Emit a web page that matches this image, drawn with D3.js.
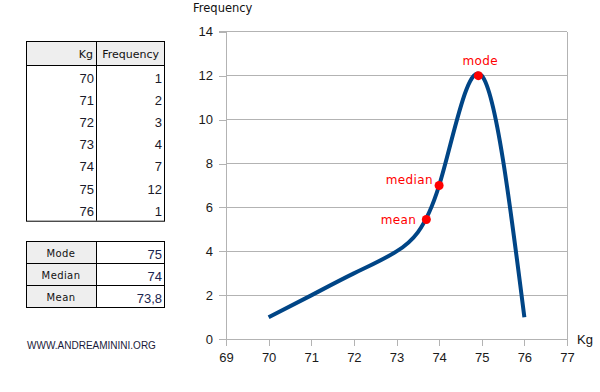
<!DOCTYPE html>
<html><head><meta charset="utf-8">
<script src="https://cdn.jsdelivr.net/npm/d3@7/dist/d3.min.js"></script>
<style>body{margin:0;background:#fff}svg{display:block}</style>
</head><body>
<script>
const kg = [70, 71, 72, 73, 74, 75, 76];
const frequency = [1, 2, 3, 4, 7, 12, 1];
const xTicks = [69, 70, 71, 72, 73, 74, 75, 76, 77];
const yTicks = [0, 2, 4, 6, 8, 10, 12, 14];
const statLabels = ["Mode", "Median", "Mean"];
const statValues = ["75", "74", "73,8"];
const markerNames = ["mode", "median", "mean"];
const markerX = [74.92, 74, 73.7];
const markerY = [12, 7, 5.45];

const W = 600, H = 392;
const svg = d3.select("body").append("svg").attr("width", W).attr("height", H);

const x = d3.scaleLinear().domain([69, 77]).range([226, 567]);
const y = d3.scaleLinear().domain([0, 14]).range([339.3, 31.7]);

// grid
svg.append("g").selectAll("line").data(yTicks).join("line")
  .attr("x1", x(69)).attr("x2", x(77))
  .attr("y1", d => y(d)).attr("y2", d => y(d))
  .attr("stroke", "#b3b3b3").attr("stroke-width", 1).attr("shape-rendering", "crispEdges");
// right border
svg.append("line").attr("x1", x(77)).attr("x2", x(77)).attr("y1", y(14)).attr("y2", y(0))
  .attr("stroke", "#b3b3b3").attr("shape-rendering", "crispEdges");

const yAxis = svg.append("g").attr("transform", `translate(${x(69)},0)`)
  .call(d3.axisLeft(y).tickValues(yTicks).tickSize(7).tickPadding(6));
const xAxis = svg.append("g").attr("transform", `translate(0,${y(0)})`)
  .call(d3.axisBottom(x).tickValues(xTicks).tickSize(7).tickPadding(6));
[yAxis, xAxis].forEach(a => {
  a.selectAll("path.domain").attr("stroke", "#b3b3b3").attr("shape-rendering", "crispEdges");
  a.selectAll(".tick line").attr("stroke", "#b3b3b3").attr("shape-rendering", "crispEdges");
  a.selectAll("text").attr("fill", "#1a1a1a").style("font-family", "Liberation Sans, Arial, sans-serif").style("font-size", "13px");
});
xAxis.selectAll("path.domain").attr("d", `M${x(69)},7V0H${x(77)}V7`);
yAxis.selectAll("path.domain").attr("d", `M-7,${y(14)}H0V${y(0)}H-7`);

svg.append("text").attr("x", 193).attr("y", 12).text("Frequency")
  .style("font-family", "DejaVu Sans, sans-serif").style("font-size", "11.5px").attr("fill", "#111");
svg.append("text").attr("x", 577).attr("y", 344).text("Kg")
  .style("font-family", "Liberation Sans, Arial, sans-serif").style("font-size", "13px").attr("fill", "#111");

// curve
const pts = kg.map((k, i) => [k, frequency[i]]);
svg.append("path").datum(pts)
  .attr("d", d3.line().x(d => x(d[0])).y(d => y(d[1])).curve(d3.curveNatural))
  .attr("fill", "none").attr("stroke", "#004586").attr("stroke-width", 4);

// markers
const mk = markerNames.map((n, i) => ({n, x: markerX[i], y: markerY[i]}));
svg.append("g").selectAll("circle").data(mk).join("circle")
  .attr("cx", d => x(d.x)).attr("cy", d => y(d.y)).attr("r", 4.5).attr("fill", "#ff0000");
const lblOff = {mode: [2, -11, "middle"], median: [-6, -2, "end"], mean: [-10, 4, "end"]};
svg.append("g").selectAll("text").data(mk).join("text")
  .attr("x", d => x(d.x) + lblOff[d.n][0]).attr("y", d => y(d.y) + lblOff[d.n][1])
  .attr("text-anchor", d => lblOff[d.n][2])
  .text(d => d.n).attr("fill", "#ff0000")
  .style("font-family", "DejaVu Sans, sans-serif").style("font-size", "12px").style("letter-spacing", "0.4px");

// table 1
const tL = 26, tM = 96, tR = 164, tTop = 41, hdrB = 65, rowH = 22.1;
const t1 = svg.append("g");
t1.append("rect").attr("x", tL).attr("y", tTop).attr("width", tR - tL).attr("height", hdrB - tTop).attr("fill", "#eeeeee");
t1.append("rect").attr("x", tL + 0.5).attr("y", tTop + 0.5).attr("width", tR - tL).attr("height", hdrB + rowH * kg.length + 1 - tTop)
  .attr("fill", "none").attr("stroke", "#000");
t1.append("line").attr("x1", tL).attr("x2", tR).attr("y1", hdrB + 0.5).attr("y2", hdrB + 0.5).attr("stroke", "#000");
t1.append("line").attr("x1", tM + 0.5).attr("x2", tM + 0.5).attr("y1", tTop).attr("y2", hdrB + rowH * kg.length + 1).attr("stroke", "#000");
t1.append("text").attr("x", tM - 3).attr("y", tTop + 17).attr("text-anchor", "end").text("Kg")
  .style("font-family", "DejaVu Sans, sans-serif").style("font-size", "11px").attr("fill", "#111");
t1.append("text").attr("x", tR - 5).attr("y", tTop + 17).attr("text-anchor", "end").text("Frequency")
  .style("font-family", "DejaVu Sans, sans-serif").style("font-size", "11px").attr("fill", "#111");
kg.forEach((k, i) => {
  const yy = hdrB + rowH * i + 18;
  t1.append("text").attr("x", tM - 2).attr("y", yy).attr("text-anchor", "end").text(k)
    .style("font-family", "Liberation Sans, Arial, sans-serif").style("font-size", "13px").attr("fill", "#1a1a2a");
  t1.append("text").attr("x", tR - 2).attr("y", yy).attr("text-anchor", "end").text(frequency[i])
    .style("font-family", "Liberation Sans, Arial, sans-serif").style("font-size", "13px").attr("fill", "#1a1a2a");
});

// table 2
const sTop = 241, sRow = 22;
const t2 = svg.append("g");
t2.append("rect").attr("x", tL).attr("y", sTop).attr("width", tM - tL).attr("height", sRow * 3).attr("fill", "#eeeeee");
t2.append("rect").attr("x", tL + 0.5).attr("y", sTop + 0.5).attr("width", tR - tL).attr("height", sRow * 3)
  .attr("fill", "none").attr("stroke", "#000");
t2.append("line").attr("x1", tM + 0.5).attr("x2", tM + 0.5).attr("y1", sTop).attr("y2", sTop + sRow * 3).attr("stroke", "#000");
[1, 2].forEach(i => t2.append("line").attr("x1", tL).attr("x2", tR).attr("y1", sTop + sRow * i + 0.5).attr("y2", sTop + sRow * i + 0.5).attr("stroke", "#000"));
statLabels.forEach((s, i) => {
  const yy = sTop + sRow * i + 16;
  t2.append("text").attr("x", (tL + tM) / 2).attr("y", yy).attr("text-anchor", "middle").text(s)
    .style("font-family", "DejaVu Sans, sans-serif").style("font-size", "10px").style("letter-spacing", "0.4px").attr("fill", "#111");
  t2.append("text").attr("x", tR - 2).attr("y", yy + 2).attr("text-anchor", "end").text(statValues[i])
    .style("font-family", "Liberation Sans, Arial, sans-serif").style("font-size", "13px").attr("fill", "#1a2550");
});

svg.append("text").attr("x", 27).attr("y", 349).text("WWW.ANDREAMININI.ORG")
  .style("font-family", "Liberation Sans, Arial, sans-serif").style("font-size", "10px").attr("fill", "#1a1a3a");
</script>
</body></html>
